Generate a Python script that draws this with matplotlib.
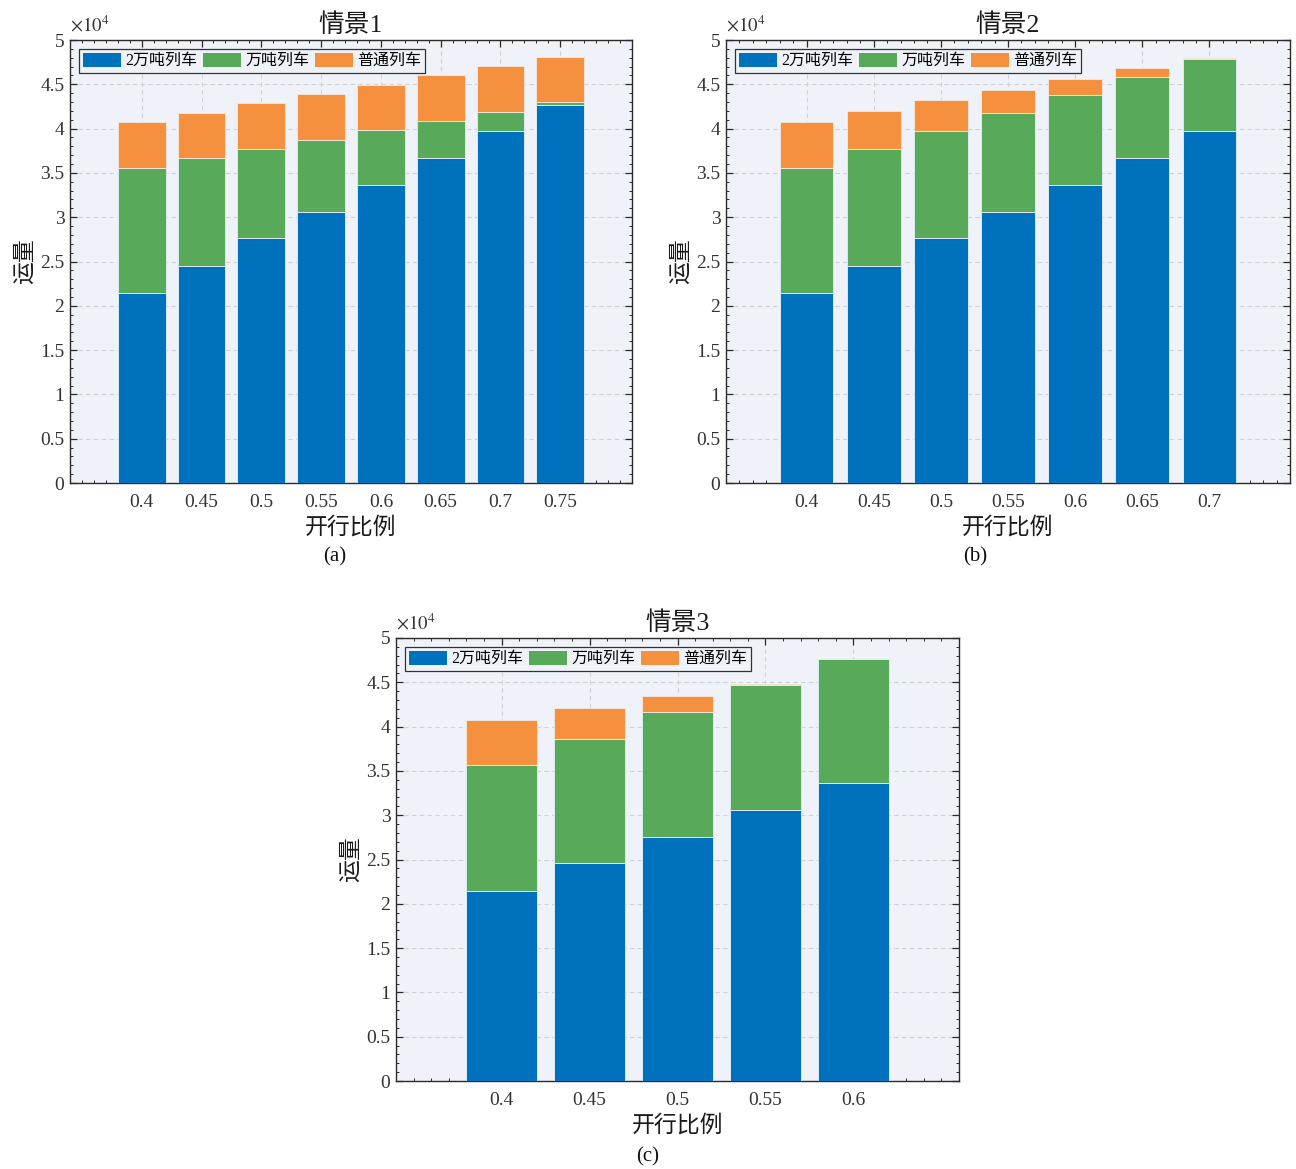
import matplotlib
matplotlib.use("Agg")
import matplotlib.pyplot as plt
from matplotlib.ticker import FixedLocator, MultipleLocator, FuncFormatter
from matplotlib.patches import Patch

plt.rcParams['font.family'] = ['Liberation Serif', 'Noto Sans CJK SC']
plt.rcParams['axes.unicode_minus'] = False
plt.rcParams['mathtext.fontset'] = 'stix'

# Scenario 1
ratios_1 = ['0.4', '0.45', '0.5', '0.55', '0.6', '0.65', '0.7', '0.75']
heavy20k_1 = [21500, 24500, 27600, 30600, 33650, 36650, 39700, 42700]
heavy10k_1 = [14100, 12150, 10150, 8150, 6150, 4200, 2200, 250]
regular_1 = [5150, 5150, 5150, 5150, 5150, 5150, 5200, 5150]

# Scenario 2
ratios_2 = ['0.4', '0.45', '0.5', '0.55', '0.6', '0.65', '0.7']
heavy20k_2 = [21500, 24500, 27600, 30600, 33600, 36650, 39700]
heavy10k_2 = [14100, 13150, 12100, 11150, 10150, 9200, 8150]
regular_2 = [5150, 4350, 3500, 2650, 1850, 950, 150]

# Scenario 3
ratios_3 = ['0.4', '0.45', '0.5', '0.55', '0.6']
heavy20k_3 = [21500, 24550, 27560, 30600, 33600]
heavy10k_3 = [14150, 14100, 14100, 14050, 14050]
regular_3 = [5150, 3450, 1850, 200, 0]

series_names = ['2万吨列车', '万吨列车', '普通列车']
series_colors = ['#0071BC', '#59A95B', '#F5913E']
axes_bg = '#EFF2F8'
spine_color = '#2b2b2b'

W, H = 1296, 1169
fig = plt.figure(figsize=(W / 100, H / 100), dpi=100)


def frac_rect(x0, y0, x1, y1):
    return [x0 / W, 1 - y1 / H, (x1 - x0) / W, (y1 - y0) / H]


def draw_panel(rect, ratios, s1, s2, s3, title, caption, cap_xy):
    ax = fig.add_axes(rect)
    ax.set_facecolor(axes_bg)
    n = len(ratios)
    pos = list(range(n))
    bottoms2 = s1
    bottoms3 = [a + b for a, b in zip(s1, s2)]
    ax.bar(pos, s1, width=0.8, color=series_colors[0], edgecolor='#dce9f3', linewidth=0.7, zorder=3)
    ax.bar(pos, s2, width=0.8, bottom=bottoms2, color=series_colors[1], edgecolor='#dce9f3', linewidth=0.7, zorder=3)
    ax.bar(pos, s3, width=0.8, bottom=bottoms3, color=series_colors[2], edgecolor='#f3e5d8', linewidth=0.7, zorder=3)

    ax.set_xlim(-1.2, n - 1 + 1.2)
    ax.set_ylim(0, 50000)
    ax.xaxis.set_major_locator(FixedLocator(pos))
    ax.set_xticklabels(ratios)
    ax.xaxis.set_minor_locator(MultipleLocator(0.2))
    ax.yaxis.set_major_locator(MultipleLocator(5000))
    ax.yaxis.set_minor_locator(MultipleLocator(1000))
    ax.yaxis.set_major_formatter(FuncFormatter(lambda v, p: '%g' % (v / 1e4)))

    ax.tick_params(which='both', direction='in', top=True, right=True, color=spine_color,
                   labelsize=14, labelcolor='#333333')
    ax.tick_params(which='major', length=5, width=0.9)
    ax.tick_params(which='minor', length=2.5, width=0.7)
    ax.tick_params(axis='x', which='major', pad=8)
    ax.tick_params(axis='y', which='major', pad=4)
    for sp in ax.spines.values():
        sp.set_color(spine_color)
        sp.set_linewidth(1.0)

    ax.grid(True, which='major', linestyle=(0, (4, 3)), color='#cfd3d8', linewidth=0.8, zorder=0)
    ax.set_axisbelow(True)

    ax.set_title(title, fontsize=18.5, pad=6, fontweight='medium', color='#1a1a1a')
    ax.set_xlabel('开行比例', fontsize=16.5, fontweight='medium', labelpad=4, color='#1a1a1a')
    ax.set_ylabel('运量', fontsize=16.5, fontweight='medium', labelpad=3, color='#1a1a1a')
    ax.text(0.0, 1.01, r'$\times10^{4}$', transform=ax.transAxes, fontsize=13.5,
            ha='left', va='bottom', color='#333333')

    handles = [Patch(facecolor=c, edgecolor='none') for c in series_colors]
    leg = ax.legend(handles, series_names, loc='upper left', ncol=3, fontsize=11.5,
                    handlelength=2.4, handleheight=0.95, handletextpad=0.25,
                    columnspacing=0.35, borderpad=0.25, borderaxespad=0.55,
                    frameon=True, fancybox=False, framealpha=1.0,
                    facecolor=axes_bg, edgecolor='#333333')
    leg.get_frame().set_linewidth(0.9)
    leg.set_zorder(5)

    fig.text(cap_xy[0] / W, 1 - cap_xy[1] / H, caption, fontsize=15,
             ha='center', va='center', color='#111111')
    return ax


draw_panel(frac_rect(70, 40, 632, 483), ratios_1, heavy20k_1, heavy10k_1, regular_1,
           '情景1', '(a)', (335, 557))
draw_panel(frac_rect(726, 40, 1290, 483), ratios_2, heavy20k_2, heavy10k_2, regular_2,
           '情景2', '(b)', (975, 557))
draw_panel(frac_rect(396, 638, 959, 1081), ratios_3, heavy20k_3, heavy10k_3, regular_3,
           '情景3', '(c)', (648, 1157))

fig.savefig('out.png', dpi=100, facecolor='white')
